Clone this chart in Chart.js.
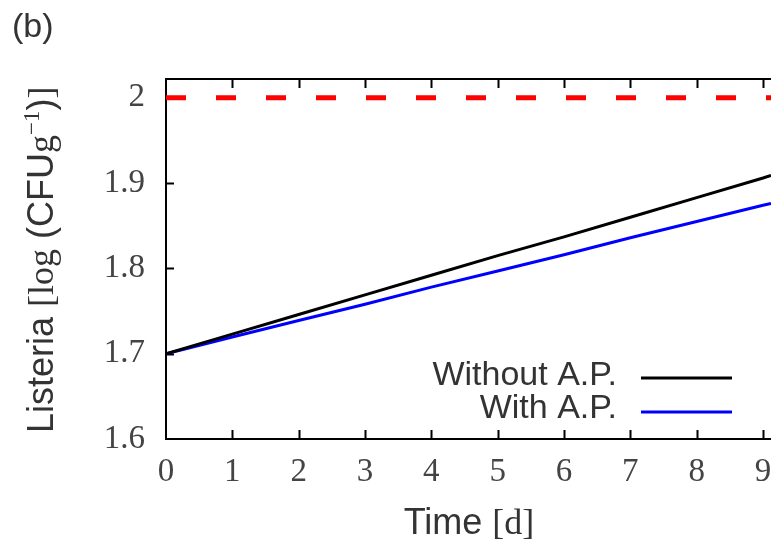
<!DOCTYPE html>
<html>
<head>
<meta charset="utf-8">
<script src="https://cdn.jsdelivr.net/npm/chart.js@4.4.1/dist/chart.umd.min.js"></script>
<style>
  html, body { margin: 0; padding: 0; background: #fff; overflow: hidden; }
  canvas { display: block; }
</style>
</head>
<body>
<canvas id="listeriaChart" width="771" height="541"></canvas>
<script>
// Data
const days = [0, 1, 2, 3, 4, 5, 6, 7, 8, 9, 9.12];
const withoutAP = [1.700, 1.723, 1.746, 1.769, 1.792, 1.815, 1.837, 1.860, 1.883, 1.906, 1.909];
const withAP = [1.700, 1.7195, 1.739, 1.758, 1.778, 1.797, 1.816, 1.836, 1.855, 1.874, 1.876];
const limitDays = [0, 9.12];
const limitValue = [2, 2];
const xTicks = [0, 1, 2, 3, 4, 5, 6, 7, 8, 9];
const yTicks = [1.6, 1.7, 1.8, 1.9, 2.0];
const seriesNames = ["Without A.P.", "With A.P."];

const serif = "'Liberation Serif', 'DejaVu Serif', serif";
const sans = "'Liberation Sans', Arial, sans-serif";

// Box, inward ticks, titles and legend, drawn like the gnuplot original
const framePlugin = {
    id: "frame",
    beforeDatasetsDraw(chart) {
        const { ctx, chartArea: a, scales } = chart;
        ctx.save();
        ctx.strokeStyle = "#000";
        ctx.lineWidth = 2;
        ctx.beginPath();
        ctx.moveTo(a.right + 2, a.top);
        ctx.lineTo(a.left, a.top);
        ctx.lineTo(a.left, a.bottom);
        ctx.lineTo(a.right + 2, a.bottom);
        ctx.stroke();
        ctx.beginPath();
        xTicks.forEach(v => {
            const px = Math.round(scales.x.getPixelForValue(v)) + 0.5;
            if (v === 0) return;
            ctx.moveTo(px, a.bottom);
            ctx.lineTo(px, a.bottom - 9);
            ctx.moveTo(px, a.top);
            ctx.lineTo(px, a.top + 9);
        });
        yTicks.forEach(v => {
            const py = Math.round(scales.y.getPixelForValue(v)) + 0.5;
            if (v === 1.6) return;
            ctx.moveTo(a.left, py);
            ctx.lineTo(a.left + 8, py);
        });
        ctx.stroke();
        ctx.restore();
    },
    afterDraw(chart) {
        const { ctx } = chart;
        ctx.save();
        ctx.fillStyle = "#333";
        ctx.textBaseline = "alphabetic";

        // panel letter
        ctx.font = "34px " + sans;
        ctx.textAlign = "left";
        ctx.fillText("(b)", 12, 37);

        // x title
        const t1 = "Time ";
        ctx.font = "36px " + sans;
        const w1 = ctx.measureText(t1).width;
        ctx.font = "36px " + serif;
        const w2 = ctx.measureText("[d]").width;
        let x0 = 469 - (w1 + w2) / 2;
        ctx.font = "36px " + sans;
        ctx.fillText(t1, x0, 534);
        ctx.font = "36px " + serif;
        ctx.fillText("[d]", x0 + w1, 534);

        // y title, rotated, mixed fonts
        ctx.translate(53, 433);
        ctx.rotate(-Math.PI / 2);
        const parts = [
            ["Listeria ", "36px " + sans, 0],
            ["[log", "36px " + serif, 0],
            [" (CFU", "36px " + sans, 0],
            ["g", "36px " + serif, 0],
            ["\u22121", "23px " + serif, -14],
            [")", "36px " + sans, 0],
            ["]", "36px " + serif, 0]
        ];
        let cx = 0;
        parts.forEach(([txt, font, dy]) => {
            ctx.font = font;
            ctx.fillText(txt, cx, dy);
            cx += ctx.measureText(txt).width;
        });
        ctx.restore();

        // legend
        ctx.save();
        ctx.font = "34px " + sans;
        ctx.textAlign = "right";
        ctx.fillStyle = "#333";
        const rows = [
            { name: seriesNames[0], color: "#000000", y: 378, base: 385 },
            { name: seriesNames[1], color: "#0000ff", y: 412, base: 418 }
        ];
        rows.forEach(r => {
            ctx.fillText(r.name, 617, r.base);
            ctx.strokeStyle = r.color;
            ctx.lineWidth = 3;
            ctx.beginPath();
            ctx.moveTo(641, r.y);
            ctx.lineTo(732, r.y);
            ctx.stroke();
        });
        ctx.restore();
    }
};

const ctxL = document.getElementById("listeriaChart").getContext("2d");
new Chart(ctxL, {
    type: "line",
    data: {
        datasets: [
            {
                label: "limit",
                data: limitDays.map((d, i) => ({ x: d, y: limitValue[i] })),
                borderColor: "#ff0000",
                borderWidth: 5,
                borderDash: [20, 30],
                pointRadius: 0
            },
            {
                label: seriesNames[0],
                data: days.map((d, i) => ({ x: d, y: withoutAP[i] })),
                borderColor: "#000000",
                borderWidth: 3,
                pointRadius: 0
            },
            {
                label: seriesNames[1],
                data: days.map((d, i) => ({ x: d, y: withAP[i] })),
                borderColor: "#0000ff",
                borderWidth: 3,
                pointRadius: 0
            }
        ]
    },
    options: {
        responsive: false,
        animation: false,
        layout: { autoPadding: false, padding: { top: 79, left: 0, right: 0, bottom: 0 } },
        plugins: { legend: { display: false }, tooltip: { enabled: false } },
        scales: {
            x: {
                type: "linear",
                min: 0,
                max: 9.12,
                afterBuildTicks: s => { s.ticks = xTicks.map(v => ({ value: v })); },
                afterFit: s => {
                    s.height = 102;
                    s.paddingLeft = 0;
                    s.paddingRight = 0;
                },
                grid: { display: false, drawTicks: false },
                border: { display: false },
                ticks: {
                    font: { family: serif, size: 33 },
                    color: "#444",
                    padding: 14,
                    maxRotation: 0,
                    autoSkip: false,
                    callback: v => String(v)
                }
            },
            y: {
                type: "linear",
                min: 1.6,
                max: 2.022,
                afterBuildTicks: s => { s.ticks = yTicks.map(v => ({ value: v })); },
                afterFit: s => {
                    s.width = 166;
                    s.paddingTop = 0;
                    s.paddingBottom = 0;
                },
                grid: { display: false, drawTicks: false },
                border: { display: false },
                ticks: {
                    font: { family: serif, size: 33 },
                    color: "#444",
                    padding: 21,
                    autoSkip: false,
                    callback: v => (Math.abs(v - 2) < 1e-9 ? "2" : v.toFixed(1))
                }
            }
        }
    },
    plugins: [framePlugin]
});
</script>
</body>
</html>
